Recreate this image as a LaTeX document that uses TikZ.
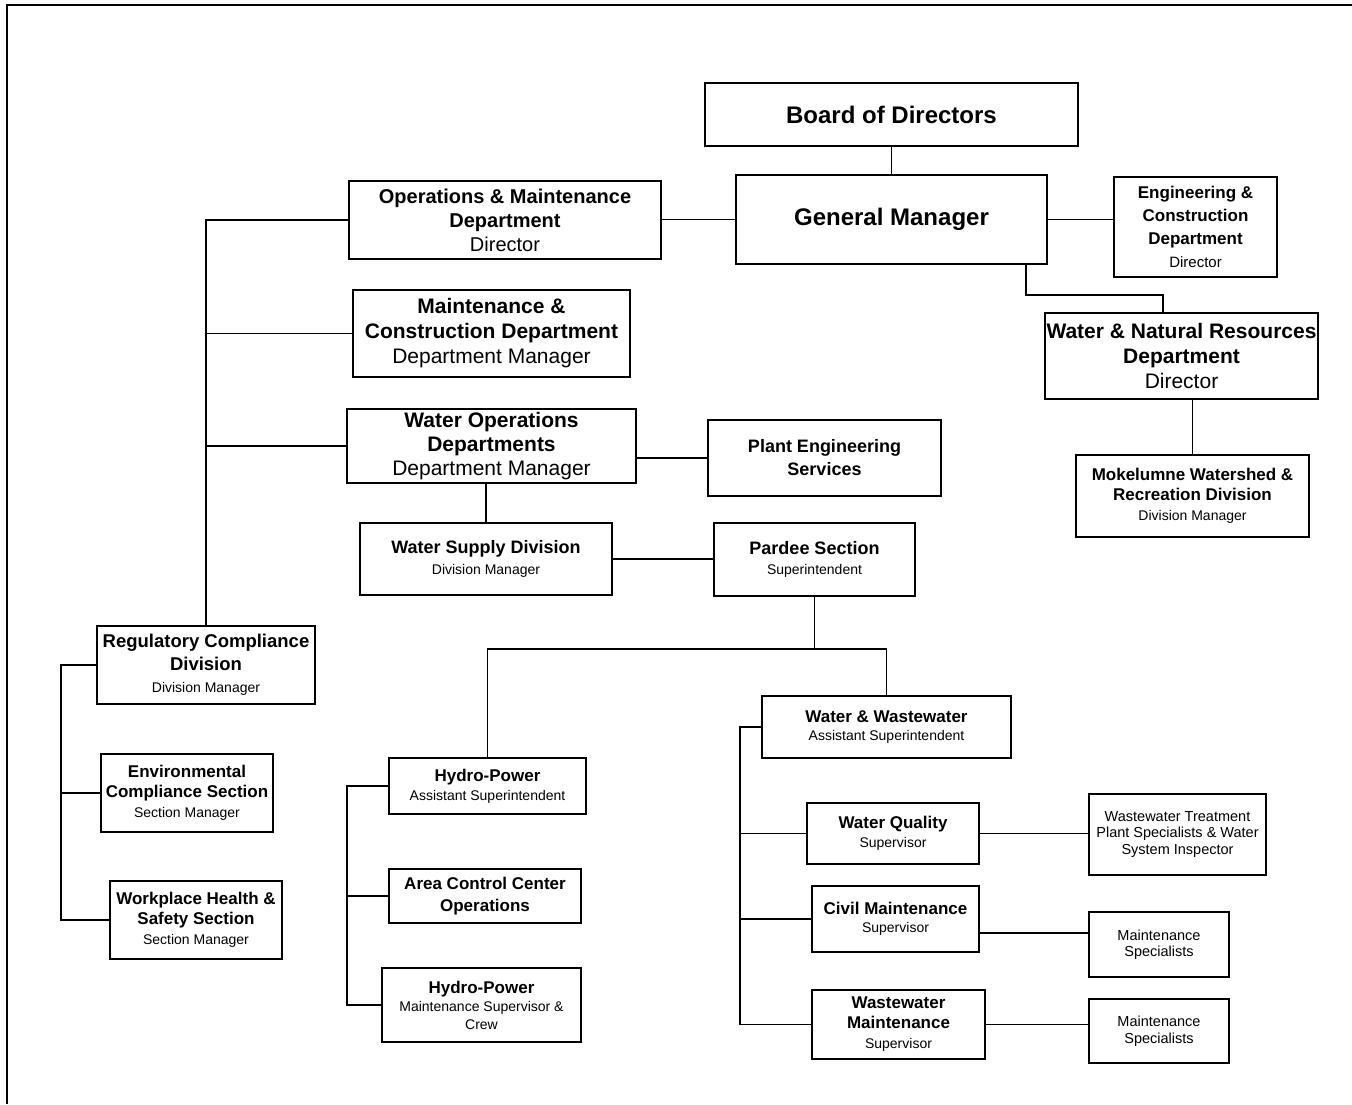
\documentclass[tikz,border=0pt]{standalone}
\usepackage{fontspec}
\setmainfont{Liberation Sans}
\usetikzlibrary{calc}
\newcommand\fsz[2]{\fontsize{#1}{#2}\selectfont}
\tikzset{
  box/.style={draw, line width=1.2pt, rectangle, inner sep=0pt, align=center, fill=white},
  conn/.style={line width=1.2pt},
}
\begin{document}
\begin{tikzpicture}[x=1pt, y=-1pt]
\useasboundingbox (0,0) rectangle (1352,1104);
% page frame
\draw[line width=2pt] (7,1104) -- (7,5) -- (1352,5);

% nodes
\node[box, minimum width=373pt, minimum height=63pt, font=\fsz{24}{28}] (board) at (891.5,114.5) {\textbf{Board of Directors}};
\node[box, minimum width=311pt, minimum height=89pt, font=\fsz{24}{28}] (gm) at (891.5,219.5) {\textbf{General Manager}};
\node[box, minimum width=312pt, minimum height=78pt, font=\fsz{20}{24}] (ops) at (505,220) {\textbf{Operations \& Maintenance}\\\textbf{Department}\\Director};
\node[box, minimum width=163pt, minimum height=100pt, font=\fsz{17}{23}] (eng) at (1195.5,227) {\textbf{Engineering \&}\\\textbf{Construction}\\\textbf{Department}\\{\fsz{15}{23}Director}};
\node[box, minimum width=273pt, minimum height=86pt, font=\fsz{21}{25}] (wnr) at (1181.5,356) {\textbf{Water \& Natural Resources}\\\textbf{Department}\\Director};
\node[box, minimum width=233pt, minimum height=82pt, font=\fsz{17}{20}] (mok) at (1192.5,496) {\textbf{Mokelumne Watershed \&}\\\textbf{Recreation Division}\\{\fsz{14}{20}Division Manager}};
\node[box, minimum width=277pt, minimum height=87pt, font=\fsz{21}{25}] (maint) at (491.5,333.5) {\textbf{Maintenance \&}\\\textbf{Construction Department}\\Department Manager};
\node[box, minimum width=289pt, minimum height=74pt, font=\fsz{21}{24}] (wops) at (491.5,446) {\textbf{Water Operations}\\\textbf{Departments}\\Department Manager};
\node[box, minimum width=233pt, minimum height=76pt, font=\fsz{18}{23}] (pes) at (824.5,458) {\textbf{Plant Engineering}\\\textbf{Services}};
\node[box, minimum width=252pt, minimum height=72pt, font=\fsz{18}{21}] (wsd) at (486,559) {\textbf{Water Supply Division}\\{\fsz{14}{21}Division Manager}};
\node[box, minimum width=201pt, minimum height=73pt, font=\fsz{18}{20}] (pardee) at (814.5,559.5) {\textbf{Pardee Section}\\{\fsz{14}{20}Superintendent}};
\node[box, minimum width=218pt, minimum height=78pt, font=\fsz{18.5}{22.5}] (reg) at (206,665) {\textbf{Regulatory Compliance}\\\textbf{Division}\\{\fsz{14}{22}Division Manager}};
\node[box, minimum width=172pt, minimum height=78pt, font=\fsz{17}{20}] (env) at (187,793) {\textbf{Environmental}\\\textbf{Compliance Section}\\{\fsz{14}{20}Section Manager}};
\node[box, minimum width=172pt, minimum height=78pt, font=\fsz{17}{20}] (work) at (196,920) {\textbf{Workplace Health \&}\\\textbf{Safety Section}\\{\fsz{14}{20}Section Manager}};
\node[box, minimum width=197pt, minimum height=56pt, font=\fsz{17}{19}] (hp) at (487.5,786) {\textbf{Hydro-Power}\\{\fsz{14}{19}Assistant Superintendent}};
\node[box, minimum width=192pt, minimum height=54pt, font=\fsz{17}{22}] (acc) at (485,896) {\textbf{Area Control Center}\\\textbf{Operations}};
\node[box, minimum width=199pt, minimum height=74pt, font=\fsz{17}{18}] (hpm) at (481.5,1005) {\textbf{Hydro-Power}\\{\fsz{14}{18}Maintenance Supervisor \&}\\{\fsz{14}{18}Crew}};
\node[box, minimum width=249pt, minimum height=62pt, font=\fsz{17}{18}] (ww) at (886.5,727) {\textbf{Water \& Wastewater}\\{\fsz{14}{18}Assistant Superintendent}};
\node[box, minimum width=172pt, minimum height=61pt, font=\fsz{17}{19}] (wq) at (893,833.5) {\textbf{Water Quality}\\{\fsz{14}{19}Supervisor}};
\node[box, minimum width=177pt, minimum height=81pt, font=\fsz{14.5}{16.5}] (wwt) at (1177.5,834.5) {Wastewater Treatment\\Plant Specialists \& Water\\System Inspector};
\node[box, minimum width=167pt, minimum height=66pt, font=\fsz{17}{18}] (civ) at (895.5,919) {\textbf{Civil Maintenance}\\{\fsz{14}{18}Supervisor}};
\node[box, minimum width=140pt, minimum height=65pt, font=\fsz{14.5}{16.5}] (ms1) at (1159,944.5) {Maintenance\\Specialists};
\node[box, minimum width=173pt, minimum height=69pt, font=\fsz{17}{20}] (wwm) at (898.5,1024.5) {\textbf{Wastewater}\\\textbf{Maintenance}\\{\fsz{14}{20}Supervisor}};
\node[box, minimum width=140pt, minimum height=64pt, font=\fsz{14.5}{16.5}] (ms2) at (1159,1031) {Maintenance\\Specialists};

% helper coordinates
\coordinate (j1) at (1026,295);
\coordinate (j2) at (1163,295);
\coordinate (pj) at (816,649);
\coordinate (rb) at (61,0);
\coordinate (hb) at (347,0);
\coordinate (wb) at (740,0);
\coordinate (c1) at ($(civ.east)+(0,14)$);

% connectors
\draw[conn] (board.south) -- (gm.north);
\draw[conn] (gm.west) -- (gm.west -| ops.east);
\draw[conn] (gm.east) -- (gm.east -| eng.west);
\draw[conn] (gm.south -| j1) -- (j1) -- (j2) -- (wnr.north -| j2);
\draw[conn] (mok.north |- wnr.south) -- (mok.north);
\draw[conn] (ops.west) -| (reg.north);
\draw[conn] (maint.west) -- (maint.west -| reg.north);
\draw[conn] (wops.west) -- (wops.west -| reg.north);
\draw[conn] (pes.west) -- (pes.west -| wops.east);
\draw[conn] (wsd.north |- wops.south) -- (wsd.north);
\draw[conn] (wsd.east) -- (wsd.east -| pardee.west);
\draw[conn] (pardee.south) -- (pardee.south |- pj);
\draw[conn] (hp.north) |- (pj) -| (ww.north);
\draw[conn] (reg.west) -- (reg.west -| rb) |- (work.west);
\draw[conn] (env.west) -- (env.west -| rb);
\draw[conn] (hp.west) -- (hp.west -| hb) |- (hpm.west);
\draw[conn] (acc.west) -- (acc.west -| hb);
\draw[conn] (ww.west) -- (ww.west -| wb) |- (wwm.west);
\draw[conn] (wq.west) -- (wq.west -| wb);
\draw[conn] (civ.west) -- (civ.west -| wb);
\draw[conn] (wq.east) -- (wq.east -| wwt.west);
\draw[conn] (c1) -- (c1 -| ms1.west);
\draw[conn] (wwm.east) -- (wwm.east -| ms2.west);
\end{tikzpicture}
\end{document}
